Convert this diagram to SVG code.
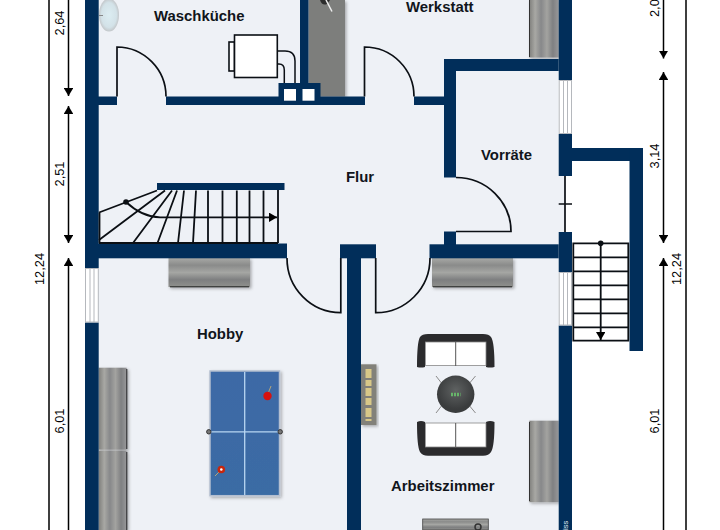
<svg xmlns="http://www.w3.org/2000/svg" width="720" height="530" viewBox="0 0 720 530">
<style>
.w{fill:#012e5a}
.d{fill:none;stroke:#0b0f14;stroke-width:1.7}
.t{fill:none;stroke:#0b0f14;stroke-width:1.8}
.dim{stroke:#000;stroke-width:1.5;fill:none}
.lab{font-family:"Liberation Sans",Arial,sans-serif;font-weight:700;font-size:14.9px;fill:#11151b}
.num{font-family:"Liberation Sans",Arial,sans-serif;font-size:12.8px;fill:#000;text-anchor:middle}
</style>
<defs>
<linearGradient id="gv" x1="0" y1="0" x2="1" y2="0"><stop offset="0" stop-color="#7f7f7c"/><stop offset=".2" stop-color="#a8a8a4"/><stop offset=".4" stop-color="#87888a"/><stop offset=".6" stop-color="#a3a3a0"/><stop offset=".8" stop-color="#7f8082"/><stop offset="1" stop-color="#98989a"/></linearGradient>
<linearGradient id="gh" x1="0" y1="0" x2="0" y2="1"><stop offset="0" stop-color="#a8a9a6"/><stop offset=".25" stop-color="#8a8b8a"/><stop offset=".5" stop-color="#a5a6a3"/><stop offset=".75" stop-color="#7e7f80"/><stop offset="1" stop-color="#8f908d"/></linearGradient>
<linearGradient id="tb" x1="0" y1="0" x2="0" y2="1"><stop offset="0" stop-color="#3e69a6"/><stop offset="1" stop-color="#3a6ca4"/></linearGradient>
<radialGradient id="sink"><stop offset="0" stop-color="#dcedf2"/><stop offset=".75" stop-color="#d3e2e8"/><stop offset="1" stop-color="#c3c7ca"/></radialGradient>
<radialGradient id="rt" cx=".5" cy=".4"><stop offset="0" stop-color="#5f6262"/><stop offset="1" stop-color="#3a3c3d"/></radialGradient>
<filter id="sh" x="-10%" y="-10%" width="125%" height="125%"><feDropShadow dx="1.5" dy="1.5" stdDeviation="1.5" flood-color="#000" flood-opacity=".3"/></filter>
<marker id="ah" viewBox="0 0 10 10" refX="10" refY="5" markerWidth="8" markerHeight="9.500" preserveAspectRatio="none" markerUnits="userSpaceOnUse" orient="auto-start-reverse"><path d="M0 0L10 5L0 10Z" fill="#000"/></marker>
</defs>
<rect width="720" height="530" fill="#fff"/>
<g id="floor"><path d="M98 0H558.7V176H565V232H558.7V530H98Z" fill="#eef1f6"/></g>

<g id="furniture">
<g id="sink"><ellipse cx="109" cy="15" rx="10" ry="16.500" fill="url(#sink)"/><path d="M99 15.500h4" stroke="#888" stroke-width="1"/></g>
<g id="washer"><rect x="229" y="42" width="5.500" height="29" fill="#fff" stroke="#0b0f14" stroke-width="1.600"/><rect x="234.500" y="35" width="42.800" height="42.500" fill="#fff" stroke="#0b0f14" stroke-width="1.600"/>
<path d="M277.300 51H285Q295 51 295 61V83M277.300 64H279Q284.300 64 284.300 70V83" fill="none" stroke="#0b0f14" stroke-width="1.500"/></g>
<g id="counter"><rect x="308.500" y="0" width="36.500" height="96.500" fill="#7d7e7c" filter="url(#sh)"/><path d="M320 0Q322 6 327 4L330 0Z" fill="#2c2c2c"/><path d="M326 0L332 11.500" stroke="#eee" stroke-width="1.500"/></g>
<g id="cabinet-werkstatt" filter="url(#sh)"><rect x="529.300" y="0" width="29.400" height="57.500" fill="url(#gv)"/><path d="M529.500 0V57" stroke="#333" stroke-width="1"/></g>
<g id="cabinet-hobby-top" filter="url(#sh)"><rect x="168.500" y="258" width="81.500" height="29" fill="url(#gh)"/><path d="M170 286.800H249" stroke="#222" stroke-width="1"/></g>
<g id="cabinet-arbeit-top" filter="url(#sh)"><rect x="432" y="258" width="81" height="29" fill="url(#gh)"/><path d="M433 286.800H512" stroke="#222" stroke-width="1"/></g>
<g id="cabinets-hobby-left" filter="url(#sh)"><rect x="98.700" y="367.700" width="28" height="82" fill="url(#gv)"/><rect x="98.700" y="450.500" width="28" height="79.500" fill="url(#gv)"/><path d="M126.800 369V449M126.800 452V530" stroke="#222" stroke-width="1"/></g>
<g id="cabinet-arbeit-right" filter="url(#sh)"><rect x="529.300" y="420.700" width="29.400" height="81.500" fill="url(#gv)"/><path d="M529.500 422V501" stroke="#333" stroke-width="1"/></g>
<g id="desk"><rect x="422.700" y="519" width="65.600" height="11" fill="url(#gh)" stroke="#444" stroke-width=".8"/><circle cx="478" cy="527" r="3" fill="none" stroke="#333" stroke-width="1.500"/></g>
<g id="shelf"><rect x="361" y="364.300" width="15.500" height="60.700" fill="#82817a" filter="url(#sh)"/><path d="M368.500 369V421" stroke="#d8c888" stroke-width="6" stroke-dasharray="9 2 6 2 8 2 7 3"/></g>
<g id="table-tennis"><rect x="210" y="371" width="69.500" height="124.700" fill="url(#tb)" stroke="#b4bfd0" stroke-width="1.500" filter="url(#sh)"/>
<path d="M244.700 372V495M210 431.800H279.500" stroke="#b8d6f2" stroke-width="1.300"/>
<circle cx="208.800" cy="431.800" r="2.200" fill="#777" stroke="#333"/><circle cx="280.200" cy="431.800" r="2.200" fill="#777" stroke="#333"/>
<path d="M267.500 395L271 386" stroke="#b5a57a" stroke-width="1"/><circle cx="267.500" cy="396" r="4.200" fill="#d8120f"/>
<path d="M221 470L215 476" stroke="#b5a57a" stroke-width="1"/><circle cx="221.300" cy="469.500" r="3.800" fill="#c8260c"/><circle cx="221.300" cy="469.500" r="1.300" fill="#fff"/></g>
<g id="sofa-top"><path d="M417 367Q417 342 420 337Q422 334 428 334H483Q489 334 491 337Q494.500 342 494.500 367Q490 368 486 367V342H425V367Q421 368 417 367Z" fill="#2b2b2d"/><rect x="425.500" y="342" width="60.500" height="23.500" fill="#fff" stroke="#888" stroke-width=".8"/><path d="M455.700 342V366" stroke="#555" stroke-width="1"/></g>
<g id="sofa-bottom"><path d="M417 422Q421 420 425 422V447H486V422Q490 420 494.500 422Q494.500 447 491 452Q489 455.700 483 455.700H428Q422 455.700 420 452Q417 447 417 422Z" fill="#2b2b2d"/><rect x="425.500" y="423" width="60.500" height="24" fill="#fff" stroke="#888" stroke-width=".8"/><path d="M455.700 423V448" stroke="#555" stroke-width="1"/></g>
<g id="round-table"><path d="M436 376L443 385M475.500 376L468 385M436 413L443 404M475.500 413L468 404" stroke="#8a8a8a" stroke-width="1"/><circle cx="455.700" cy="394.300" r="18.700" fill="url(#rt)"/><path d="M451 394.500h9.500" stroke="#67b56a" stroke-width="3.500" stroke-dasharray="2 1"/></g>
</g>

<g id="walls" class="w">
<rect x="85" y="0" width="13.700" height="268"/><rect x="85" y="322.500" width="13.700" height="207.500"/>
<rect x="300" y="0" width="8.500" height="84"/>
<rect x="98" y="96.500" width="19" height="8.500"/><rect x="166" y="96.500" width="199" height="8.500"/><rect x="414" y="96.500" width="31" height="8.500"/>
<rect x="278.500" y="83" width="42" height="22"/>
<rect x="444" y="59" width="114.700" height="12"/><rect x="444" y="59" width="12" height="118.500"/>
<rect x="444" y="231.500" width="12" height="14"/>
<rect x="98" y="243.500" width="189" height="14.800"/><rect x="340" y="244.300" width="36" height="14"/><rect x="429.500" y="244.300" width="129.200" height="14"/>
<rect x="347" y="258" width="14" height="272"/>
<rect x="558.700" y="0" width="13.300" height="80"/><rect x="558.700" y="134" width="13.300" height="42"/><rect x="558.700" y="232" width="13.300" height="40"/><rect x="558.700" y="325.500" width="13.300" height="204.500"/>
<rect x="572" y="148" width="71" height="13"/><rect x="629.500" y="148" width="13.500" height="203"/>
<rect x="157" y="183" width="127.500" height="7"/>
</g>
<g id="flues"><rect x="284" y="89" width="12" height="11.700" fill="#fff"/><rect x="302.500" y="89" width="12" height="11.700" fill="#fff"/></g>

<g id="windows" fill="#fff" stroke="#b5b8bd" stroke-width="1">
<g id="window-left"><rect x="85.500" y="268.500" width="12.800" height="53.500"/><path d="M90 268.500V322M94 268.500V322"/></g>
<g id="window-right-top"><rect x="559.200" y="80.500" width="12.300" height="53"/><path d="M563.500 80.500V133.500M567.500 80.500V133.500"/></g>
<g id="window-right-bottom"><rect x="559.200" y="272.500" width="12.300" height="52.500"/><path d="M563.500 272.500V325M567.500 272.500V325"/></g>
</g>

<g id="doors" class="d">
<path d="M117 96.500V47A49.500 49.500 0 0 1 166 96.500"/>
<path d="M364.500 96.500V47A49.500 49.500 0 0 1 414 96.500"/>
<path d="M456 177.500A55 54 0 0 1 511 231.500H456"/>
<path d="M287 258A54 54.500 0 0 0 340.800 312.700V258"/>
<path d="M375.700 258V312.700A54 54.500 0 0 0 430 258"/>
<path d="M565 176V232M558.700 204H572"/>
</g>

<g id="stairs-left" class="t">
<path d="M99.500 212.500V243M278 190V243M99 243H278"/>
<path d="M99 212.500L157 190.500M99 240L165 190.500M133 243L172 190.500M157.500 243L177 190.500M178 243L184 190.500M193 243L196 190.500M208 243V190.500M222.500 243V190.500M236.800 243V190.500M249.500 243V190.500M263.500 243V190.500"/>
<path d="M126 202Q142 217 160 217.300H277" marker-end="url(#ah)"/>
<circle cx="126" cy="202" r="2.800" fill="#0b0f14" stroke="none"/>
</g>
<g id="stairs-right" class="t">
<path d="M573.300 243.300H628.300V340.700H573.300ZM573.300 257.300H628.300M573.300 271.300H628.300M573.300 285.300H628.300M573.300 299.300H628.300M573.300 313.300H628.300M573.300 327.300H628.300"/>
<path d="M600.700 243.300V340" marker-end="url(#ah)"/>
<circle cx="600.700" cy="243.300" r="2.800" fill="#0b0f14" stroke="none"/>
</g>

<g id="dimensions" class="dim">
<path d="M49 0V530M686 0V530"/>
<path d="M68.500 0V96" marker-end="url(#ah)"/>
<path d="M68.500 106V243" marker-start="url(#ah)" marker-end="url(#ah)"/>
<path d="M68.500 258V530" marker-start="url(#ah)"/>
<path d="M663.500 0V58.500" marker-end="url(#ah)"/>
<path d="M663.500 72V243" marker-start="url(#ah)" marker-end="url(#ah)"/>
<path d="M663.500 258V530" marker-start="url(#ah)"/>
</g>

<g id="labels">
<text class="lab" x="154" y="21.300">Waschküche</text>
<text class="lab" x="406" y="12">Werkstatt</text>
<text class="lab" x="346" y="182.300">Flur</text>
<text class="lab" x="481" y="160">Vorräte</text>
<text class="lab" x="197" y="339">Hobby</text>
<text class="lab" x="391" y="490.700">Arbeitszimmer</text>
<text class="num" transform="translate(63.500 23) rotate(-90)">2,64</text>
<text class="num" transform="translate(63.500 174) rotate(-90)">2,51</text>
<text class="num" transform="translate(44 269) rotate(-90)">12,24</text>
<text class="num" transform="translate(63.500 421) rotate(-90)">6,01</text>
<text class="num" style="text-anchor:start" transform="translate(658.500 17) rotate(-90)">2,0</text>
<text class="num" transform="translate(658.500 156) rotate(-90)">3,14</text>
<text class="num" transform="translate(681 269) rotate(-90)">12,24</text>
<text class="num" transform="translate(658.500 421) rotate(-90)">6,01</text>
<text transform="translate(568 530) rotate(-90)" font-family="'Liberation Sans',Arial,sans-serif" font-size="7.500" fill="#dfe6ee">iss</text>
</g>
</svg>
